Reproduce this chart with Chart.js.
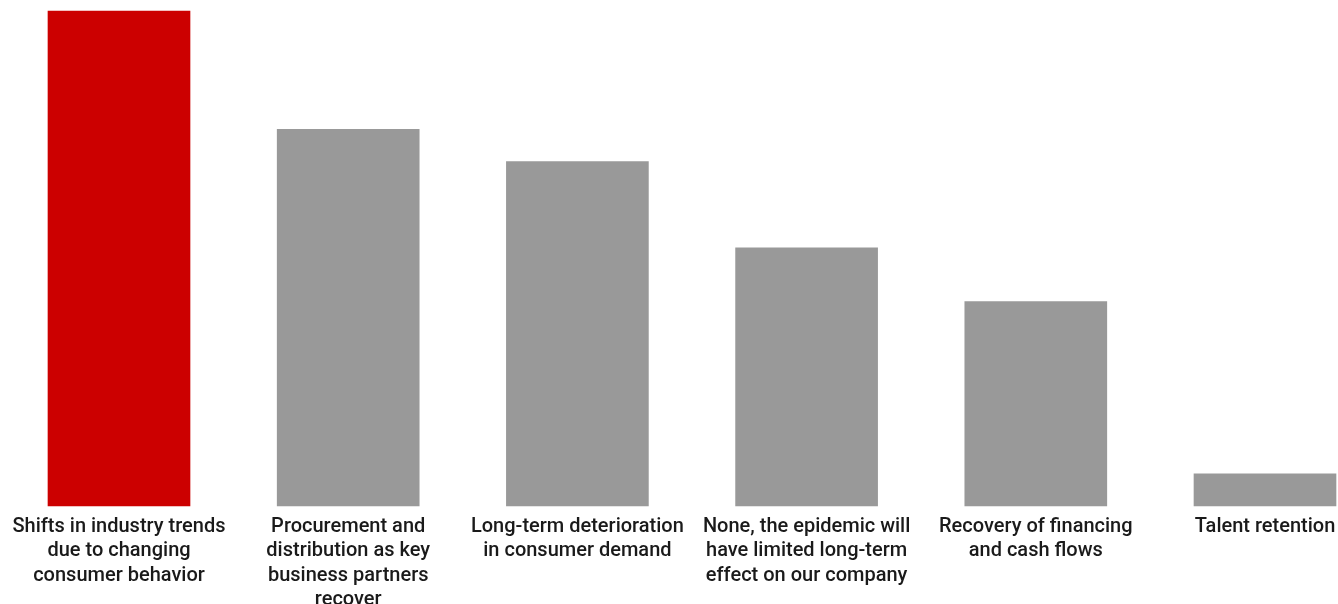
<!DOCTYPE html>
<html>
<head>
<meta charset="utf-8">
<script src="https://cdn.jsdelivr.net/npm/chart.js@4/dist/chart.umd.min.js"></script>
<style>
  html, body { margin: 0; padding: 0; background: #fff; }
  #wrap { width: 1338px; height: 604px; position: relative; }
</style>
</head>
<body>
<div id="wrap"><canvas id="chart"></canvas></div>
<script>
// Long-term impacts of the epidemic on the business (share of respondents, %)
const categories = [
  ["Shifts in industry trends", "due to changing", "consumer behavior"],
  ["Procurement and", "distribution as key", "business partners", "recover"],
  ["Long-term deterioration", "in consumer demand"],
  ["None, the epidemic will", "have limited long-term", "effect on our company"],
  ["Recovery of financing", "and cash flows"],
  ["Talent retention"]
];
const shares = [46, 35, 32, 24, 19, 3];
const barColors = ["#cc0000", "#999999", "#999999", "#999999", "#999999", "#999999"];

new Chart(document.getElementById('chart'), {
  type: 'bar',
  data: {
    labels: categories,
    datasets: [{
      data: shares,
      backgroundColor: barColors,
      borderWidth: 0,
      barThickness: 142,
      clip: false
    }]
  },
  options: {
    responsive: true,
    maintainAspectRatio: false,
    animation: false,
    layout: { padding: { top: 11, left: 119, right: 73, bottom: 0 } },
    plugins: { legend: { display: false }, tooltip: { enabled: false } },
    scales: {
      x: {
        offset: false,
        grid: { display: false },
        border: { display: false },
        ticks: {
          autoSkip: false,
          maxRotation: 0,
          minRotation: 0,
          padding: 1,
          color: '#1a1a1a',
          font: { family: 'Roboto', size: 20, weight: '500', lineHeight: 1.21 }
        },
        afterFit: (scale) => {
          // fixed label band; side gutters come from layout padding only
          scale.height = 98;
          scale.paddingLeft = 0;
          scale.paddingRight = 0;
        }
      },
      y: {
        display: false,
        min: 0,
        max: 46
      }
    }
  }
});
</script>
</body>
</html>
